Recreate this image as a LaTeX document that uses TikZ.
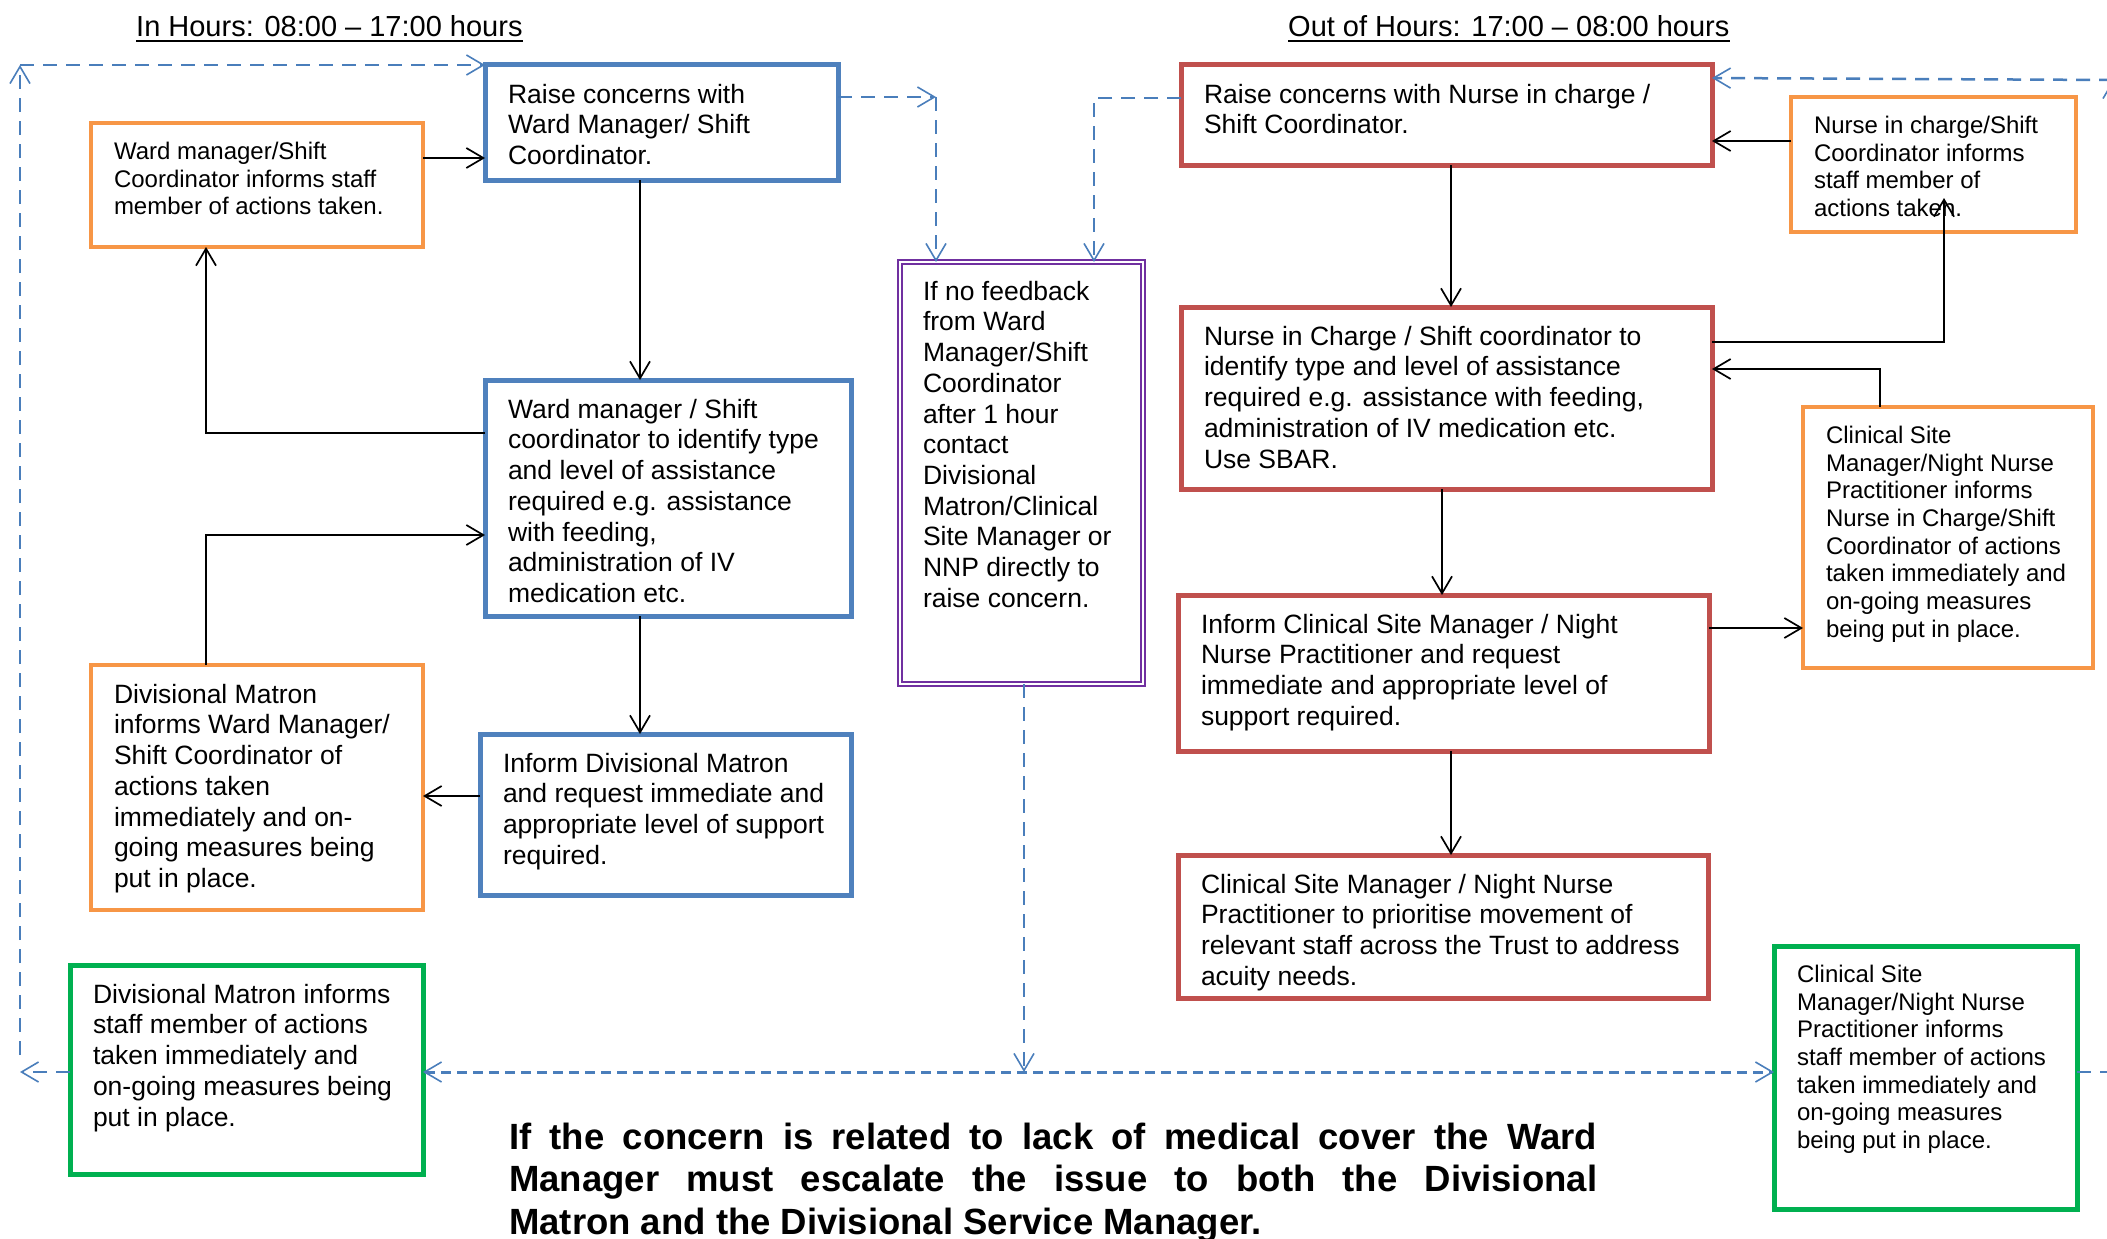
\documentclass[tikz,border=0pt]{standalone}
\usepackage{fontspec}
\setmainfont{Liberation Sans}
\usetikzlibrary{arrows.meta}
\definecolor{cblue}{HTML}{4F81BD}
\definecolor{corange}{HTML}{F79646}
\definecolor{cred}{HTML}{C0504D}
\definecolor{cgreen}{HTML}{00B050}
\definecolor{cpurple}{HTML}{7030A0}
\definecolor{cdash}{HTML}{4A7EBB}
\newcommand\bxl[1]{\hbox to \hsize{#1\hss}}
\newcommand\bxt[3]{\parbox[t][#2pt][t]{#1pt}{#3}}
\tikzset{
  bx/.style={draw, line width=5pt, outer sep=0pt, inner xsep=23pt, inner ysep=19pt, anchor=north west, fill=white},
  bluebx/.style={bx, draw=cblue},
  orbx/.style={bx, draw=corange, line width=4.5pt},
  redbx/.style={bx, draw=cred},
  grbx/.style={bx, draw=cgreen},
  purbx/.style={bx, draw=cpurple, line width=1.6pt, double=white, double distance=2.5pt},
  lg/.style={font=\fontsize{26.5}{30.7}\selectfont},
  sm/.style={font=\fontsize{24}{27.7}\selectfont},
  conn/.style={draw=black, line width=1.7pt, -{Straight Barb[length=17pt,width=20pt,line width=1.7pt]}},
  dline/.style={draw=cdash, line width=2.5pt, dash pattern=on 14pt off 9pt},
  dconn/.style={dline, -{Straight Barb[length=17pt,width=20pt,line width=1.6pt]}},
  dbus/.style={draw=cdash, line width=3pt, dash pattern=on 10pt off 6pt,
     {Straight Barb[length=17pt,width=20pt,line width=1.6pt]}-{Straight Barb[length=17pt,width=20pt,line width=1.6pt]}},
  ttl/.style={anchor=base west, inner sep=0pt, font=\fontsize{29}{34}\selectfont},
}
\begin{document}
\begin{tikzpicture}[x=1pt,y=-1pt]
\useasboundingbox (0,0) rectangle (2107,1239);

% titles
\node[ttl] (t1) at (136,37) {In Hours: 08:00 – 17:00 hours};
\draw[line width=2pt] ([yshift=-4pt]t1.base west) -- ([yshift=-4pt]t1.base east);
\node[ttl] (t2) at (1288,37) {Out of Hours: 17:00 – 08:00 hours};
\draw[line width=2pt] ([yshift=-4pt]t2.base west) -- ([yshift=-4pt]t2.base east);

% in hours boxes
\node[bluebx, lg] (A) at (485,65) {\bxt{307}{77}{\bxl{Raise concerns with}\bxl{Ward Manager/ Shift}\bxl{Coordinator.}}};
\node[orbx, sm] (B) at (91,123) {\bxt{286}{86}{\bxl{Ward manager/Shift}\bxl{Coordinator informs staff}\bxl{member of actions taken.}}};
\node[bluebx, lg] (C) at (485,380) {\bxt{320}{198}{\bxl{Ward manager / Shift}\bxl{coordinator to identify type}\bxl{and level of assistance}\bxl{required e.g. assistance}\bxl{with feeding,}\bxl{administration of IV}\bxl{medication etc.}}};
\node[bluebx, lg] (D) at (480,734) {\bxt{325}{123}{\bxl{Inform Divisional Matron}\bxl{and request immediate and}\bxl{appropriate level of support}\bxl{required.}}};
\node[orbx, lg] (E) at (91,665) {\bxt{286}{207}{\bxl{Divisional Matron}\bxl{informs Ward Manager/}\bxl{Shift Coordinator of}\bxl{actions taken}\bxl{immediately and on-}\bxl{going measures being}\bxl{put in place.}}};
\node[grbx, lg] (F) at (70,965) {\bxt{307}{171}{\bxl{Divisional Matron informs}\bxl{staff member of actions}\bxl{taken immediately and}\bxl{on-going measures being}\bxl{put in place.}}};

% middle box
\node[purbx, lg] (G) at (900,262) {\bxt{197}{384}{\bxl{If no feedback}\bxl{from Ward}\bxl{Manager/Shift}\bxl{Coordinator}\bxl{after 1 hour}\bxl{contact}\bxl{Divisional}\bxl{Matron/Clinical}\bxl{Site Manager or}\bxl{NNP directly to}\bxl{raise concern.}}};

% out of hours boxes
\node[redbx, lg] (H) at (1181,65) {\bxt{485}{62}{\bxl{Raise concerns with Nurse in charge /}\bxl{Shift Coordinator.}}};
\node[orbx, sm] (I) at (1791,97) {\bxt{239}{97}{\bxl{Nurse in charge/Shift}\bxl{Coordinator informs}\bxl{staff member of}\bxl{actions taken.}}};
\node[redbx, lg] (J) at (1181,307) {\bxt{485}{144}{\bxl{Nurse in Charge / Shift coordinator to}\bxl{identify type and level of assistance}\bxl{required e.g. assistance with feeding,}\bxl{administration of IV medication etc.}\bxl{Use SBAR.}}};
\node[orbx, sm] (K) at (1803,407) {\bxt{244}{223}{\bxl{Clinical Site}\bxl{Manager/Night Nurse}\bxl{Practitioner informs}\bxl{Nurse in Charge/Shift}\bxl{Coordinator of actions}\bxl{taken immediately and}\bxl{on-going measures}\bxl{being put in place.}}};
\node[redbx, lg] (L) at (1178,595) {\bxt{485}{118}{\bxl{Inform Clinical Site Manager / Night}\bxl{Nurse Practitioner and request}\bxl{immediate and appropriate level of}\bxl{support required.}}};
\node[redbx, lg] (M) at (1178,855) {\bxt{484}{105}{\bxl{Clinical Site Manager / Night Nurse}\bxl{Practitioner to prioritise movement of}\bxl{relevant staff across the Trust to address}\bxl{acuity needs.}}};
\node[grbx, sm] (N) at (1774,946) {\bxt{257}{225}{\bxl{Clinical Site}\bxl{Manager/Night Nurse}\bxl{Practitioner informs}\bxl{staff member of actions}\bxl{taken immediately and}\bxl{on-going measures}\bxl{being put in place.}}};

% bold note
\node[anchor=base west, inner sep=0pt, font=\bfseries\fontsize{36.5}{42.5}\selectfont] (P) at (509,1149)
  {\parbox[t]{1088pt}{\tolerance=10000 If the concern is related to lack of medical cover the Ward\linebreak Manager must escalate the issue to both the Divisional\linebreak Matron and the Divisional Service Manager.}};

% helper coordinates
\coordinate (r158) at (0,158);
\coordinate (r433) at (0,433);
\coordinate (r535) at (0,535);
\coordinate (r796) at (0,796);
\coordinate (r97) at (0,97);
\coordinate (r98) at (0,98);
\coordinate (r1072) at (0,1072);
\coordinate (r78) at (0,78);
\coordinate (r141) at (0,141);
\coordinate (r342) at (0,342);
\coordinate (r369) at (0,369);
\coordinate (r628) at (0,628);
\coordinate (c640) at (640,0);
\coordinate (c206) at (206,0);
\coordinate (c1094) at (1094,0);
\coordinate (c1024) at (1024,0);
\coordinate (c1451) at (1451,0);
\coordinate (c1442) at (1442,0);
\coordinate (c1880) at (1880,0);
\coordinate (k1) at (936,97);
\coordinate (Itip) at (1944,198);
\coordinate (lb) at (20,1055);
\coordinate (lt) at (20,65);
\coordinate (le) at (20,1072);
\coordinate (rb) at (2113,1072);
\coordinate (rt) at (2113,80);
\coordinate (re) at (2130,1072);

% in hours connectors
\draw[conn] (B.east |- r158) -- (A.west |- r158);
\draw[conn] (A.south -| c640) -- (C.north -| c640);
\draw[conn] (C.west |- r433) -| (B.south -| c206);
\draw[conn] (E.north -| c206) |- (C.west |- r535);
\draw[conn] (C.south -| c640) -- (D.north -| c640);
\draw[conn] (D.west |- r796) -- (E.east |- r796);

% dashed escalation connectors
\draw[dconn] (A.east |- r97) -- (k1);
\draw[dconn] (k1) -- (G.north -| k1);
\draw[dconn] (H.west |- r98) -| (G.north -| c1094);
\draw[dconn] (G.south -| c1024) -- (c1024 |- r1072);
\draw[dbus] (F.east |- r1072) -- (N.west |- r1072);
\draw[dconn] (F.west |- r1072) -- (le);
\draw[dconn] (lb) -- (lt);
\draw[dconn] (lt) -- (A.north west);
\draw[dline] (N.east |- r1072) -- (re);
\draw[dconn] (rb) -- (rt);
\draw[dconn] (rt) -- (H.east |- r78);

% out of hours connectors
\draw[conn] (H.south -| c1451) -- (J.north -| c1451);
\draw[conn] (I.west |- r141) -- (H.east |- r141);
\draw[conn] (J.east |- r342) -| (Itip);
\draw[conn] (K.north -| c1880) |- (J.east |- r369);
\draw[conn] (J.south -| c1442) -- (L.north -| c1442);
\draw[conn] (L.east |- r628) -- (K.west |- r628);
\draw[conn] (L.south -| c1451) -- (M.north -| c1451);
\end{tikzpicture}
\end{document}
